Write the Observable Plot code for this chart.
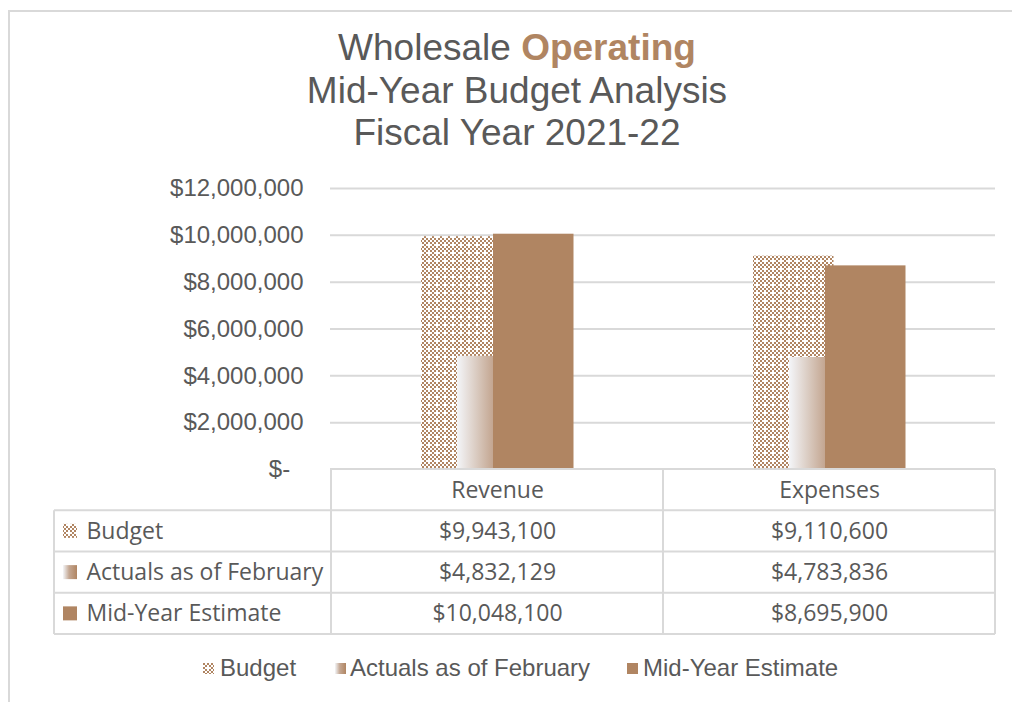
<!DOCTYPE html>
<html>
<head>
<meta charset="utf-8">
<script src="https://cdn.jsdelivr.net/npm/d3@7"></script>
<script src="https://cdn.jsdelivr.net/npm/@observablehq/plot@0.6"></script>
<style>
  html, body { margin: 0; padding: 0; background: #fff; }
  #wrap { position: relative; width: 1012px; height: 702px; overflow: hidden; }
  #border { position: absolute; left: 8px; top: 10px; width: 1012px; height: 702px;
            border-top: 2px solid #d9d9d9; border-left: 2px solid #d9d9d9; }
  #title { position: absolute; left: 22px; top: 27px; width: 990px; text-align: center;
           font-family: 'Liberation Sans', Arial, sans-serif; font-size: 37px; line-height: 42.5px; color: #595959; }
  #title b { color: #b08562; }
  #chart { position: absolute; left: 0; top: 0; }
  .leg { position: absolute; top: 655px; font-family: 'Liberation Sans', Arial, sans-serif; font-size: 24px;
         color: #595959; line-height: 26px; white-space: nowrap; }
  .key { position: absolute; top: 663px; width: 11px; height: 11px; }
</style>
</head>
<body>
<svg width="0" height="0" style="position:absolute">
  <defs>
    <pattern id="budgetPat" patternUnits="userSpaceOnUse" width="8" height="8">
      <rect width="8" height="8" fill="#fff"/>
      <rect x="0" y="0" width="2" height="2" fill="#b08562"/>
      <rect x="4" y="0" width="2" height="2" fill="#b08562"/>
      <rect x="2" y="2" width="2" height="2" fill="#b08562"/>
      <rect x="6" y="2" width="2" height="2" fill="#b08562"/>
      <rect x="0" y="4" width="2" height="2" fill="#b08562"/>
      <rect x="2" y="6" width="2" height="2" fill="#b08562"/>
      <rect x="6" y="6" width="2" height="2" fill="#b08562"/>
    </pattern>
    <linearGradient id="actGrad" x1="0" y1="0" x2="1" y2="0">
      <stop offset="0" stop-color="#f4f6f9"/>
      <stop offset="0.44" stop-color="#c4a792"/>
      <stop offset="1" stop-color="#b08562"/>
    </linearGradient>
  </defs>
</svg>
<div id="wrap">
  <div id="border"></div>
  <div id="title">Wholesale <b>Operating</b><br>Mid-Year Budget Analysis<br>Fiscal Year 2021-22</div>
  <div id="chart"></div>
</div>
<script>
// ---- data ----
const categories = ["Revenue", "Expenses"];
const seriesNames = ["Budget", "Actuals as of February", "Mid-Year Estimate"];
const budget = [9943100, 9110600];
const actuals = [4832129, 4783836];
const midYear = [10048100, 8695900];
const yTicks = [0, 2000000, 4000000, 6000000, 8000000, 10000000, 12000000];

// ---- derived ----
const seriesValues = [budget, actuals, midYear];
const fills = ["url(#budgetPat)", "url(#actGrad)", "#b08562"];
const insets = [[90, 161.5], [126, 125.5], [162, 89.5]];
const rows = seriesNames.flatMap((s, i) => categories.map((c, j) => ({series: s, category: c, value: seriesValues[i][j]})));
const money = v => "$" + d3.format(",")(v);
const rowH = 41.25;

function tableGrid(index, scales, values, dim) {
  const xL = dim.marginLeft, xR = dim.width - dim.marginRight;
  const top = scales.y(0);
  const labelLeft = 54;
  const g = d3.create("svg:g");
  const lines = g.append("g").attr("stroke", "#d9d9d9").attr("stroke-width", 2);
  lines.append("line").attr("x1", xL).attr("x2", xR).attr("y1", top).attr("y2", top);
  for (let i = 1; i <= 4; i++) {
    lines.append("line").attr("x1", labelLeft).attr("x2", xR).attr("y1", top + rowH * i).attr("y2", top + rowH * i);
  }
  categories.forEach(c => {
    const x = scales.x(c);
    lines.append("line").attr("x1", x).attr("x2", x).attr("y1", top).attr("y2", top + rowH * 4);
  });
  lines.append("line").attr("x1", xR).attr("x2", xR).attr("y1", top).attr("y2", top + rowH * 4);
  lines.append("line").attr("x1", labelLeft).attr("x2", labelLeft).attr("y1", top + rowH).attr("y2", top + rowH * 4);
  seriesNames.forEach((s, i) => {
    const cy = top + rowH * (i + 1.5);
    g.append("rect").attr("x", 63).attr("y", cy - 7).attr("width", 14).attr("height", 14).attr("fill", fills[i]);
  });
  return g.node();
}

const tableFont = {fontFamily: "'Open Sans', 'Noto Sans', sans-serif", fontSize: 23, fill: "#595959", lineAnchor: "middle"};

const marks = [
  Plot.gridY(yTicks.filter(d => d > 0), {stroke: "#d9d9d9", strokeOpacity: 1, strokeWidth: 2}),
  ...seriesNames.map((s, i) => Plot.barY(rows.filter(d => d.series === s), {
    x: "category", y: "value", fill: fills[i], insetLeft: insets[i][0], insetRight: insets[i][1]
  })),
  Plot.axisY(yTicks, {tickSize: 0, tickPadding: 27, fontSize: 24, label: null,
    tickFormat: d => d === 0 ? "$-\u00a0\u00a0" : money(d)}),
  tableGrid,
  Plot.text(categories, {x: d => d, frameAnchor: "bottom", dy: rowH / 2, text: d => d, ...tableFont}),
  ...seriesNames.map((s, i) => Plot.text(categories.map((c, j) => ({c, v: seriesValues[i][j]})), {
    x: "c", frameAnchor: "bottom", dy: rowH * (i + 1.5), text: d => money(d.v), ...tableFont
  })),
  ...seriesNames.map((s, i) => Plot.text([s], {
    frameAnchor: "bottom-left", dx: -244, dy: rowH * (i + 1.5), textAnchor: "start", text: d => d, ...tableFont
  }))
];

const chart = Plot.plot({
  width: 1012, height: 702,
  marginTop: 188, marginBottom: 233, marginLeft: 330, marginRight: 17,
  x: {domain: categories, padding: 0, axis: null, label: null},
  y: {domain: [0, 12000000], axis: null, label: null},
  style: {fontFamily: "'Liberation Sans', Arial, sans-serif", fontSize: "24px", color: "#595959", background: "transparent", overflow: "visible"},
  marks
});
document.getElementById("chart").appendChild(chart);

// ---- bottom legend ----
const wrap = document.getElementById("wrap");
const legKeyX = [203, 335, 627];
const legTextX = [220, 350, 643];
seriesNames.forEach((s, i) => {
  const k = document.createElementNS("http://www.w3.org/2000/svg", "svg");
  k.setAttribute("class", "key");
  k.setAttribute("width", 11); k.setAttribute("height", 11);
  k.style.left = legKeyX[i] + "px";
  const r = document.createElementNS("http://www.w3.org/2000/svg", "rect");
  r.setAttribute("width", 11); r.setAttribute("height", 11); r.setAttribute("fill", fills[i]);
  k.appendChild(r);
  wrap.appendChild(k);
  const t = document.createElement("div");
  t.className = "leg"; t.textContent = s; t.style.left = legTextX[i] + "px";
  wrap.appendChild(t);
});
</script>
</body>
</html>
